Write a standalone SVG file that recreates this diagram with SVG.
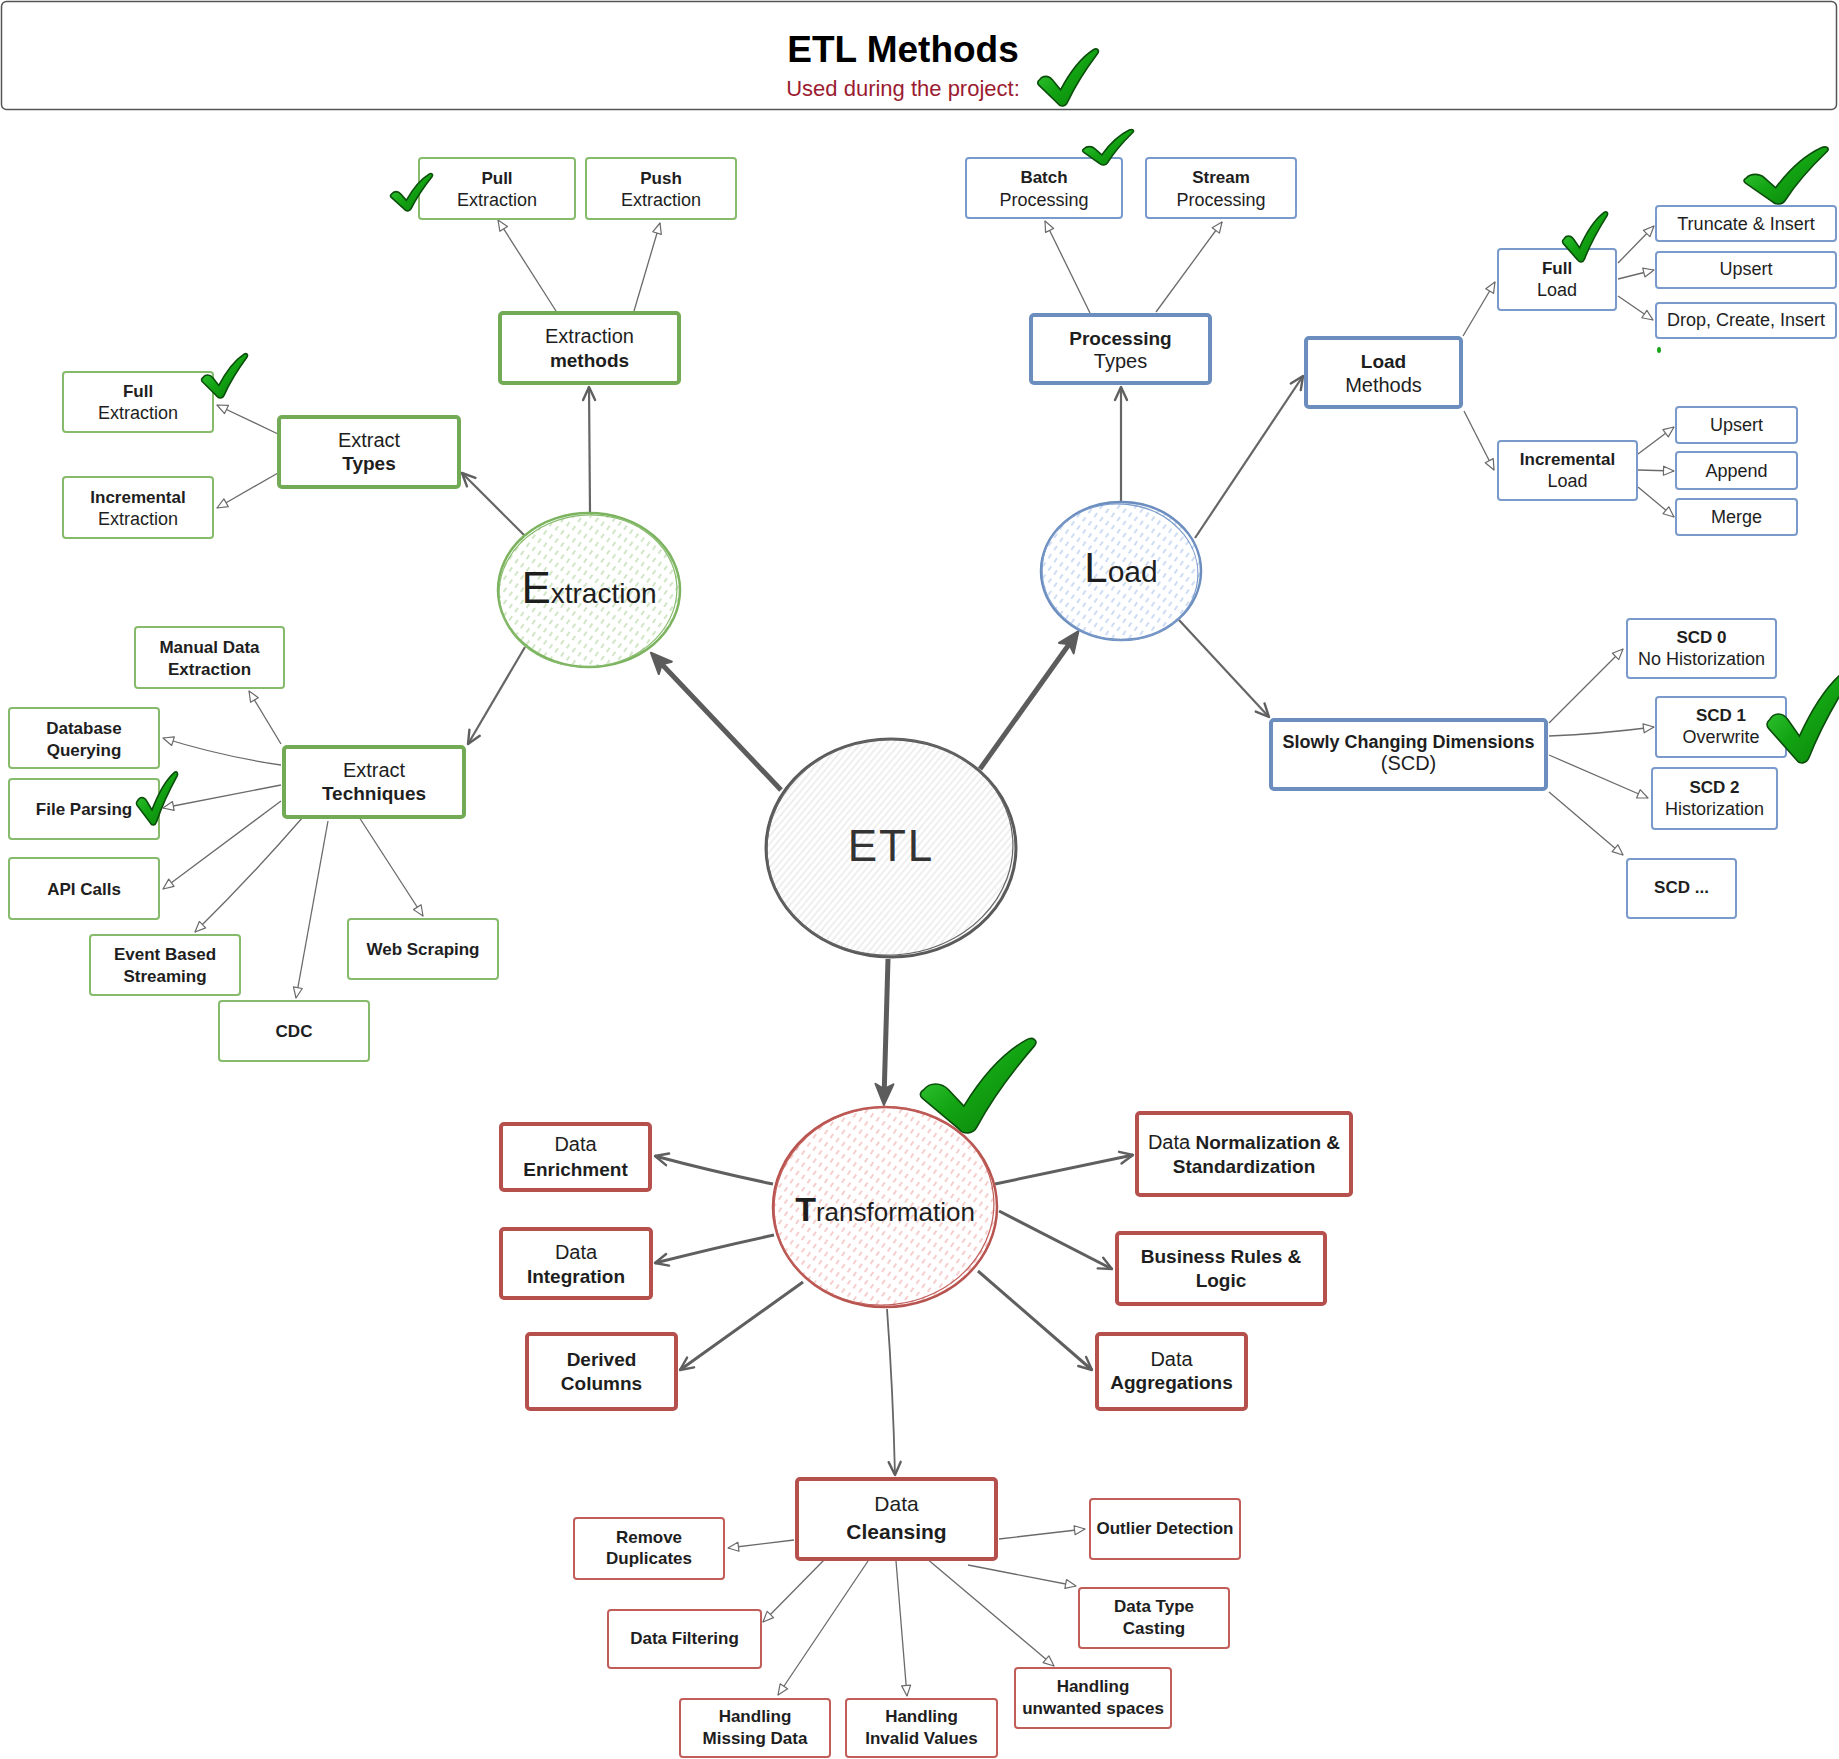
<svg xmlns="http://www.w3.org/2000/svg" width="1839" height="1759" viewBox="0 0 1839 1759">
<style>
.t{font-family:"Liberation Sans",Arial,sans-serif;fill:#1e1e1e;text-anchor:middle}
.r{font-size:18px}
.b{font-size:17px;font-weight:700}
.R{font-size:20px}
.B{font-size:19px;font-weight:700}
.gb{fill:#fff;stroke:#86bb6c;stroke-width:2}
.gB{fill:#fff;stroke:#72aa55;stroke-width:4}
.bb{fill:#fff;stroke:#7a9acb;stroke-width:2}
.bB{fill:#fff;stroke:#6c8ebf;stroke-width:4}
.rb{fill:#fff;stroke:#c25e5a;stroke-width:2}
.rB{fill:#fff;stroke:#b5504c;stroke-width:4}
.c1{fill:none;stroke:#5c5c5c;stroke-width:5;marker-end:url(#mBig)}
.c2{fill:none;stroke:#666;stroke-width:2.2;marker-end:url(#mMid)}
.c3{fill:none;stroke:#5f5f5f;stroke-width:3;marker-end:url(#mMid)}
.c4{fill:none;stroke:#6a6a6a;stroke-width:1.3;marker-end:url(#mSmall)}
</style>
<defs>
<marker id="mBig" markerUnits="userSpaceOnUse" markerWidth="26" markerHeight="24" viewBox="0 0 26 24" refX="17" refY="12" orient="auto">
<path d="M2,3 L23,12 L2,21 L7,12 Z" fill="#5c5c5c" stroke="#5c5c5c" stroke-width="2" stroke-linejoin="round"/>
</marker>
<marker id="mMid" markerUnits="userSpaceOnUse" markerWidth="18" markerHeight="16" viewBox="0 0 18 16" refX="15" refY="8" orient="auto">
<path d="M2,2 L15,8 L2,14" fill="none" stroke="#5f5f5f" stroke-width="2.4" stroke-linejoin="round" stroke-linecap="round"/>
</marker>
<marker id="mSmall" markerUnits="userSpaceOnUse" markerWidth="14" markerHeight="12" viewBox="0 0 14 12" refX="12" refY="6" orient="auto">
<path d="M1.5,1.5 L12,6 L1.5,10.5 Z" fill="#fff" stroke="#6a6a6a" stroke-width="1.2" stroke-linejoin="round"/>
</marker>
<pattern id="pg" width="7" height="10" patternUnits="userSpaceOnUse" patternTransform="rotate(35)">
<line x1="3" y1="1" x2="3" y2="6" stroke="#b9d9a8" stroke-width="1.3"/>
</pattern>
<pattern id="pb" width="7" height="10" patternUnits="userSpaceOnUse" patternTransform="rotate(35)">
<line x1="3" y1="1" x2="3" y2="6" stroke="#b3cbee" stroke-width="1.3"/>
</pattern>
<pattern id="pr" width="7" height="10" patternUnits="userSpaceOnUse" patternTransform="rotate(35)">
<line x1="3" y1="1" x2="3" y2="6" stroke="#f2b3b3" stroke-width="1.3"/>
</pattern>
<pattern id="pe" width="5" height="5" patternUnits="userSpaceOnUse" patternTransform="rotate(40)">
<line x1="2" y1="0" x2="2" y2="5" stroke="#dedede" stroke-width="1"/>
</pattern>
<linearGradient id="cg" x1="0" y1="0" x2="1" y2="1">
<stop offset="0" stop-color="#45d845"/>
<stop offset="0.5" stop-color="#12a312"/>
<stop offset="1" stop-color="#0a7d0a"/>
</linearGradient>
<symbol id="chk" viewBox="0 0 100 100" preserveAspectRatio="none" overflow="visible">
<path d="M4,55 C9,47 19,47 25,55 L38,72 C53,42 72,16 91,3 C97,-1 101,4 98,9 C79,36 61,66 49,94 C46,101 38,102 34,96 L3,64 C0,61 1,57 4,55 Z" fill="url(#cg)" stroke="#0b4d0b" stroke-width="1.6" vector-effect="non-scaling-stroke"/>
</symbol>
</defs>
<rect x="0" y="0" width="1839" height="1759" fill="#fff"/>

<g id="title">
<rect x="1.5" y="1.5" width="1835" height="108" rx="5" fill="#fff" stroke="#555" stroke-width="1.5"/>
<text x="903" y="62" font-family="Liberation Sans, Arial, sans-serif" font-weight="700" font-size="37" text-anchor="middle" fill="#000">ETL Methods</text>
<text x="903" y="96" font-family="Liberation Sans, Arial, sans-serif" font-size="22" text-anchor="middle" fill="#9b1c31">Used during the project:</text>
</g>

<g id="connectors">
<path class="c1" d="M781,790 L655,657"/>
<path class="c1" d="M980,769 L1075,636"/>
<path class="c1" d="M888,959 L884,1099"/>
<path class="c2" d="M590,512 L589,387"/>
<path class="c2" d="M524,535 L462,473"/>
<path class="c2" d="M525,647 L468,744"/>
<path class="c2" d="M1121,502 L1121,387"/>
<path class="c2" d="M1195,538 L1303,376"/>
<path class="c2" d="M1179,620 L1269,717"/>
<path class="c3" d="M773,1184 Q715,1172 655,1156"/>
<path class="c3" d="M774,1235 Q718,1247 655,1263"/>
<path class="c3" d="M803,1282 L680,1370"/>
<path class="c3" d="M995,1184 L1133,1155"/>
<path class="c3" d="M999,1211 L1112,1269"/>
<path class="c3" d="M978,1271 L1092,1370"/>
<path class="c2" style="stroke-width:1.8" d="M887,1309 Q893,1390 895,1475"/>
<path class="c4" d="M556,311 L498,220"/>
<path class="c4" d="M634,311 L660,223"/>
<path class="c4" d="M278,434 L217,405"/>
<path class="c4" d="M278,473 L217,508"/>
<path class="c4" d="M281,744 L249,691"/>
<path class="c4" d="M281,765 Q220,756 163,738"/>
<path class="c4" d="M281,785 L163,808"/>
<path class="c4" d="M281,801 L163,889"/>
<path class="c4" d="M303,817 Q250,878 195,932"/>
<path class="c4" d="M328,821 L296,998"/>
<path class="c4" d="M359,817 L423,916"/>
<path class="c4" d="M1090,313 L1045,221"/>
<path class="c4" d="M1156,312 L1222,222"/>
<path class="c4" d="M1463,336 L1495,282"/>
<path class="c4" d="M1464,411 L1494,470"/>
<path class="c4" d="M1618,263 L1654,226"/>
<path class="c4" d="M1618,279 L1654,270"/>
<path class="c4" d="M1618,296 L1653,320"/>
<path class="c4" d="M1638,454 L1674,427"/>
<path class="c4" d="M1638,470 L1674,471"/>
<path class="c4" d="M1638,487 L1674,517"/>
<path class="c4" d="M1549,723 L1623,649"/>
<path class="c4" d="M1549,736 Q1600,734 1654,727"/>
<path class="c4" d="M1549,755 L1648,798"/>
<path class="c4" d="M1549,792 L1623,855"/>
<path class="c4" d="M794,1540 L728,1548"/>
<path class="c4" d="M999,1539 L1085,1529"/>
<path class="c4" d="M826,1558 L763,1622"/>
<path class="c4" d="M968,1565 L1076,1586"/>
<path class="c4" d="M868,1561 L778,1695"/>
<path class="c4" d="M896,1561 L907,1696"/>
<path class="c4" d="M926,1558 L1054,1666"/>
</g>

<g id="node-etl">
<ellipse cx="891" cy="848" rx="125" ry="109" fill="#fff"/>
<ellipse cx="891" cy="848" rx="125" ry="109" fill="url(#pe)" stroke="#5a5a5a" stroke-width="3"/>
<ellipse cx="890" cy="847" rx="123" ry="108" fill="none" stroke="#666" stroke-width="1.2" transform="rotate(-4 890 847)"/>
<text class="t" x="891" y="861" font-size="44" letter-spacing="2" style="fill:#333">ETL</text>
</g>

<g id="node-extraction">
<ellipse cx="589" cy="590" rx="91" ry="77" fill="#fff"/>
<ellipse cx="589" cy="590" rx="91" ry="77" fill="url(#pg)" stroke="#7cb35f" stroke-width="2.5"/>
<ellipse cx="588" cy="591" rx="89" ry="76" fill="none" stroke="#86bb6c" stroke-width="1.2" transform="rotate(-5 588 591)"/>
<text class="t" x="589" y="603"><tspan font-size="44">E</tspan><tspan font-size="28">xtraction</tspan></text>
</g>

<g id="node-load">
<ellipse cx="1121" cy="571" rx="80" ry="69" fill="#fff"/>
<ellipse cx="1121" cy="571" rx="80" ry="69" fill="url(#pb)" stroke="#6c8ebf" stroke-width="2.5"/>
<ellipse cx="1120" cy="572" rx="78" ry="68" fill="none" stroke="#7a9acb" stroke-width="1.2" transform="rotate(6 1120 572)"/>
<text class="t" x="1121" y="582"><tspan font-size="42">L</tspan><tspan font-size="30">oad</tspan></text>
</g>

<g id="node-transformation">
<ellipse cx="885" cy="1207" rx="112" ry="100" fill="#fff"/>
<ellipse cx="885" cy="1207" rx="112" ry="100" fill="url(#pr)" stroke="#b85450" stroke-width="2.5"/>
<ellipse cx="884" cy="1206" rx="110" ry="99" fill="none" stroke="#c25e5a" stroke-width="1.2" transform="rotate(-6 884 1206)"/>
<text class="t" x="885" y="1221"><tspan font-size="34" font-weight="700">T</tspan><tspan font-size="26">ransformation</tspan></text>
</g>

<g id="node-extraction-methods">
<rect class="gB" x="500" y="313" width="179" height="70" rx="3"/>
<text class="t R" x="589.5" y="343">Extraction</text>
<text class="t B" x="589.5" y="367">methods</text>
</g>
<g id="node-pull-extraction">
<rect class="gb" x="419" y="158" width="156" height="61" rx="3"/>
<text class="t b" x="497" y="184">Pull</text>
<text class="t r" x="497" y="206">Extraction</text>
</g>
<g id="node-push-extraction">
<rect class="gb" x="586" y="158" width="150" height="61" rx="3"/>
<text class="t b" x="661" y="184">Push</text>
<text class="t r" x="661" y="206">Extraction</text>
</g>
<g id="node-extract-types">
<rect class="gB" x="279" y="417" width="180" height="70" rx="3"/>
<text class="t R" x="369" y="447">Extract</text>
<text class="t B" x="369" y="470">Types</text>
</g>
<g id="node-full-extraction">
<rect class="gb" x="63" y="372" width="150" height="60" rx="3"/>
<text class="t b" x="138" y="397">Full</text>
<text class="t r" x="138" y="419">Extraction</text>
</g>
<g id="node-incremental-extraction">
<rect class="gb" x="63" y="477" width="150" height="61" rx="3"/>
<text class="t b" x="138" y="503">Incremental</text>
<text class="t r" x="138" y="525">Extraction</text>
</g>
<g id="node-extract-techniques">
<rect class="gB" x="284" y="747" width="180" height="70" rx="3"/>
<text class="t R" x="374" y="777">Extract</text>
<text class="t B" x="374" y="800">Techniques</text>
</g>
<g id="node-manual-data-extraction">
<rect class="gb" x="135" y="627" width="149" height="61" rx="3"/>
<text class="t b" x="209.5" y="653">Manual Data</text>
<text class="t b" x="209.5" y="675">Extraction</text>
</g>
<g id="node-database-querying">
<rect class="gb" x="9" y="708" width="150" height="60" rx="3"/>
<text class="t b" x="84" y="734">Database</text>
<text class="t b" x="84" y="756">Querying</text>
</g>
<g id="node-file-parsing">
<rect class="gb" x="9" y="779" width="150" height="60" rx="3"/>
<text class="t b" x="84" y="815">File Parsing</text>
</g>
<g id="node-api-calls">
<rect class="gb" x="9" y="858" width="150" height="61" rx="3"/>
<text class="t b" x="84" y="895">API Calls</text>
</g>
<g id="node-event-based-streaming">
<rect class="gb" x="90" y="935" width="150" height="60" rx="3"/>
<text class="t b" x="165" y="960">Event Based</text>
<text class="t b" x="165" y="982">Streaming</text>
</g>
<g id="node-cdc">
<rect class="gb" x="219" y="1001" width="150" height="60" rx="3"/>
<text class="t b" x="294" y="1037">CDC</text>
</g>
<g id="node-web-scraping">
<rect class="gb" x="348" y="919" width="150" height="60" rx="3"/>
<text class="t b" x="423" y="955">Web Scraping</text>
</g>

<g id="node-processing-types">
<rect class="bB" x="1031" y="315" width="179" height="68" rx="3"/>
<text class="t B" x="1120.5" y="345">Processing</text>
<text class="t R" x="1120.5" y="368">Types</text>
</g>
<g id="node-batch-processing">
<rect class="bb" x="966" y="158" width="156" height="60" rx="3"/>
<text class="t b" x="1044" y="183">Batch</text>
<text class="t r" x="1044" y="206">Processing</text>
</g>
<g id="node-stream-processing">
<rect class="bb" x="1146" y="158" width="150" height="60" rx="3"/>
<text class="t b" x="1221" y="183">Stream</text>
<text class="t r" x="1221" y="206">Processing</text>
</g>
<g id="node-load-methods">
<rect class="bB" x="1306" y="338" width="155" height="69" rx="3"/>
<text class="t B" x="1383.5" y="368">Load</text>
<text class="t R" x="1383.5" y="392">Methods</text>
</g>
<g id="node-full-load">
<rect class="bb" x="1498" y="249" width="118" height="61" rx="3"/>
<text class="t b" x="1557" y="274">Full</text>
<text class="t r" x="1557" y="296">Load</text>
</g>
<g id="node-truncate-insert">
<rect class="bb" x="1656" y="206" width="180" height="35" rx="3"/>
<text class="t r" x="1746" y="230">Truncate &amp; Insert</text>
</g>
<g id="node-upsert-full">
<rect class="bb" x="1656" y="252" width="180" height="36" rx="3"/>
<text class="t r" x="1746" y="275">Upsert</text>
</g>
<g id="node-drop-create-insert">
<rect class="bb" x="1656" y="303" width="180" height="35" rx="3"/>
<text class="t r" x="1746" y="326">Drop, Create, Insert</text>
</g>
<g id="node-incremental-load">
<rect class="bb" x="1498" y="441" width="139" height="59" rx="3"/>
<text class="t b" x="1567.5" y="465">Incremental</text>
<text class="t r" x="1567.5" y="487">Load</text>
</g>
<g id="node-upsert-incremental">
<rect class="bb" x="1676" y="407" width="121" height="36" rx="3"/>
<text class="t r" x="1736.5" y="431">Upsert</text>
</g>
<g id="node-append">
<rect class="bb" x="1676" y="452" width="121" height="37" rx="3"/>
<text class="t r" x="1736.5" y="477">Append</text>
</g>
<g id="node-merge">
<rect class="bb" x="1676" y="499" width="121" height="36" rx="3"/>
<text class="t r" x="1736.5" y="523">Merge</text>
</g>
<g id="node-scd">
<rect class="bB" x="1271" y="720" width="275" height="69" rx="3"/>
<text class="t B" x="1408.5" y="748" style="font-size:18px">Slowly Changing Dimensions</text>
<text class="t R" x="1408.5" y="770">(SCD)</text>
</g>
<g id="node-scd0">
<rect class="bb" x="1627" y="619" width="149" height="59" rx="3"/>
<text class="t b" x="1701.5" y="643">SCD 0</text>
<text class="t r" x="1701.5" y="665">No Historization</text>
</g>
<g id="node-scd1">
<rect class="bb" x="1656" y="697" width="130" height="60" rx="3"/>
<text class="t b" x="1721" y="721">SCD 1</text>
<text class="t r" x="1721" y="743">Overwrite</text>
</g>
<g id="node-scd2">
<rect class="bb" x="1652" y="768" width="125" height="61" rx="3"/>
<text class="t b" x="1714.5" y="793">SCD 2</text>
<text class="t r" x="1714.5" y="815">Historization</text>
</g>
<g id="node-scd-more">
<rect class="bb" x="1627" y="859" width="109" height="59" rx="3"/>
<text class="t b" x="1681.5" y="893">SCD ...</text>
</g>

<g id="node-data-enrichment">
<rect class="rB" x="501" y="1124" width="149" height="66" rx="3"/>
<text class="t R" x="575.5" y="1151">Data</text>
<text class="t B" x="575.5" y="1176">Enrichment</text>
</g>
<g id="node-data-integration">
<rect class="rB" x="501" y="1229" width="150" height="69" rx="3"/>
<text class="t R" x="576" y="1259">Data</text>
<text class="t B" x="576" y="1283">Integration</text>
</g>
<g id="node-derived-columns">
<rect class="rB" x="527" y="1334" width="149" height="75" rx="3"/>
<text class="t B" x="601.5" y="1366">Derived</text>
<text class="t B" x="601.5" y="1390">Columns</text>
</g>
<g id="node-data-normalization">
<rect class="rB" x="1137" y="1113" width="214" height="82" rx="3"/>
<text class="t" x="1244" y="1149"><tspan class="R">Data</tspan><tspan class="B"> Normalization &amp;</tspan></text>
<text class="t B" x="1244" y="1173">Standardization</text>
</g>
<g id="node-business-rules">
<rect class="rB" x="1117" y="1233" width="208" height="71" rx="3"/>
<text class="t B" x="1221" y="1263">Business Rules &amp;</text>
<text class="t B" x="1221" y="1287">Logic</text>
</g>
<g id="node-data-aggregations">
<rect class="rB" x="1097" y="1334" width="149" height="75" rx="3"/>
<text class="t R" x="1171.5" y="1366">Data</text>
<text class="t B" x="1171.5" y="1389">Aggregations</text>
</g>
<g id="node-data-cleansing">
<rect class="rB" x="797" y="1479" width="199" height="80" rx="3"/>
<text class="t" x="896.5" y="1511" font-size="21">Data</text>
<text class="t" x="896.5" y="1539" font-size="21" font-weight="700">Cleansing</text>
</g>
<g id="node-remove-duplicates">
<rect class="rb" x="574" y="1518" width="150" height="61" rx="3"/>
<text class="t b" x="649" y="1543">Remove</text>
<text class="t b" x="649" y="1564">Duplicates</text>
</g>
<g id="node-outlier-detection">
<rect class="rb" x="1090" y="1499" width="150" height="60" rx="3"/>
<text class="t b" x="1165" y="1534">Outlier Detection</text>
</g>
<g id="node-data-filtering">
<rect class="rb" x="608" y="1610" width="153" height="58" rx="3"/>
<text class="t b" x="684.5" y="1644">Data Filtering</text>
</g>
<g id="node-data-type-casting">
<rect class="rb" x="1079" y="1588" width="150" height="60" rx="3"/>
<text class="t b" x="1154" y="1612">Data Type</text>
<text class="t b" x="1154" y="1634">Casting</text>
</g>
<g id="node-handling-missing-data">
<rect class="rb" x="680" y="1699" width="150" height="58" rx="3"/>
<text class="t b" x="755" y="1722">Handling</text>
<text class="t b" x="755" y="1744">Missing Data</text>
</g>
<g id="node-handling-invalid-values">
<rect class="rb" x="846" y="1699" width="151" height="58" rx="3"/>
<text class="t b" x="921.5" y="1722">Handling</text>
<text class="t b" x="921.5" y="1744">Invalid Values</text>
</g>
<g id="node-handling-unwanted-spaces">
<rect class="rb" x="1015" y="1668" width="156" height="60" rx="3"/>
<text class="t b" x="1093" y="1692">Handling</text>
<text class="t b" x="1093" y="1714">unwanted spaces</text>
</g>

<g id="checks">
<use href="#chk" x="1037" y="48" width="62" height="58"/>
<use href="#chk" x="390" y="173" width="43" height="38"/>
<use href="#chk" x="201" y="353" width="47" height="45"/>
<use href="#chk" x="136" y="771" width="42" height="54"/>
<use href="#chk" x="1082" y="129" width="52" height="36"/>
<use href="#chk" x="1562" y="211" width="46" height="51"/>
<use href="#chk" x="1743" y="146" width="86" height="58"/>
<use href="#chk" x="1766" y="667" width="88" height="96"/>
<use href="#chk" x="919" y="1037" width="118" height="96"/>
<ellipse cx="1659" cy="350" rx="2" ry="3" fill="#1aa51a"/>
</g>
</svg>
